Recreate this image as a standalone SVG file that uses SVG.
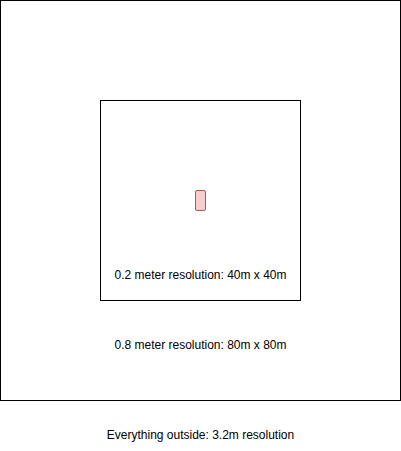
<svg xmlns="http://www.w3.org/2000/svg" width="401" height="451" viewBox="0 0 401 451">
<style>
.box{fill:#ffffff;stroke:#000000;stroke-width:1}
.t{font-family:"Liberation Sans",Arial,sans-serif;font-size:12px;fill:#000000;text-anchor:middle}
</style>
<rect x="0" y="0" width="401" height="451" fill="#ffffff"/>
<g id="outer">
<rect class="box" x="0.5" y="0.5" width="400" height="400"/>
<text class="t" x="200.5" y="349">0.8 meter resolution: 80m x 80m</text>
</g>
<g id="inner">
<rect class="box" x="100.5" y="100.5" width="200" height="200"/>
<text class="t" x="200.5" y="279">0.2 meter resolution: 40m x 40m</text>
</g>
<g id="robot">
<rect x="195.5" y="190.5" width="10" height="20" rx="1.5" fill="#f8cecc" stroke="#b85450"/>
</g>
<g id="outside">
<text class="t" x="200.5" y="439">Everything outside: 3.2m resolution</text>
</g>
<g id="connectors"/>
</svg>
